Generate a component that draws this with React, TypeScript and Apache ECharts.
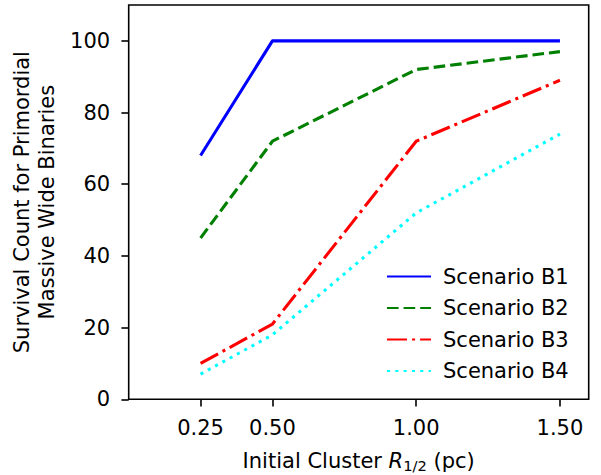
import React, { useEffect, useRef } from "react";
import * as echarts from "echarts";

const radii = [0.25, 0.5, 1.0, 1.5];
const scenarioB1 = [68, 100, 100, 100];
const scenarioB2 = [45, 72, 92, 97];
const scenarioB3 = [10, 21, 72, 89];
const scenarioB4 = [7, 18, 52, 74];
const seriesNames = ["Scenario B1", "Scenario B2", "Scenario B3", "Scenario B4"];
const seriesValues = [scenarioB1, scenarioB2, scenarioB3, scenarioB4];
const seriesColors = ["#0000ff", "#008000", "#ff0000", "#00ffff"];
const seriesDashes: (string | number[])[] = ["solid", [11.6, 5], [20, 5, 3.1, 5], [3.1, 5.2]];
const xTicks = [0.25, 0.5, 1.0, 1.5];
const yTicks = [0, 20, 40, 60, 80, 100];

const FONT = "DejaVu Sans";

export default function App() {
  const ref = useRef<HTMLDivElement>(null);
  useEffect(() => {
    if (!ref.current) return;
    const chart = echarts.init(ref.current, null, { renderer: "svg" });
    chart.setOption({
      animation: false,
      backgroundColor: "#ffffff",
      grid: {
        left: 128.7,
        top: 5,
        right: 12.3,
        bottom: 75.7,
        show: true,
        borderColor: "#000",
        borderWidth: 1.6,
        backgroundColor: "transparent",
        containLabel: false,
        outerBoundsMode: "none",
      },
      legend: {
        orient: "vertical",
        left: 381,
        top: 261,
        itemWidth: 44,
        itemHeight: 14,
        itemGap: 10.5,
        itemStyle: { opacity: 0 },
        textStyle: { fontSize: 21, fontFamily: FONT, color: "#000", padding: [0, 0, 0, 7], lineHeight: 21 },
        data: seriesNames,
      },
      xAxis: {
        type: "value",
        min: 0,
        max: 1.6,
        name: "Initial Cluster {i|R}{sub|1/2} (pc)",
        nameLocation: "middle",
        nameGap: 50,
        nameTextStyle: {
          fontSize: 21,
          fontFamily: FONT,
          color: "#000",
          rich: {
            i: { fontSize: 21, fontFamily: FONT, fontStyle: "italic", color: "#000" },
            sub: { fontSize: 14.7, fontFamily: FONT, color: "#000", padding: [9, 0, 0, 0] },
          },
        },
        splitLine: { show: false },
        axisLine: { show: false },
        axisTick: { show: true, customValues: xTicks, length: 7.3, lineStyle: { color: "#000", width: 1.6 } },
        axisLabel: {
          customValues: xTicks,
          formatter: (v: number) => v.toFixed(2),
          fontSize: 21,
          fontFamily: FONT,
          color: "#000",
          margin: 18,
        },
      },
      yAxis: {
        type: "value",
        min: 0,
        max: 110,
        name: "Survival Count for Primordial\nMassive Wide Binaries",
        nameLocation: "middle",
        nameGap: 66,
        nameTextStyle: { fontSize: 21, fontFamily: FONT, color: "#000", lineHeight: 24.5, align: "center" },
        splitLine: { show: false },
        axisLine: { show: false },
        axisTick: { show: true, customValues: yTicks, length: 7.3, lineStyle: { color: "#000", width: 1.6 } },
        axisLabel: {
          customValues: yTicks,
          fontSize: 21,
          fontFamily: FONT,
          color: "#000",
          margin: 18.5,
        },
      },
      series: seriesNames.map((name, i) => ({
        name,
        type: "line",
        data: radii.map((r, j) => [r, seriesValues[i][j]]),
        showSymbol: false,
        symbol: "none",
        color: seriesColors[i],
        lineStyle: { color: seriesColors[i], width: 3.1, type: seriesDashes[i], cap: "butt", join: "round" },
      })),
    });
    return () => chart.dispose();
  }, []);
  return <div ref={ref} style={{ position: "fixed", left: 0, top: 0, width: 601, height: 475 }} />;
}
